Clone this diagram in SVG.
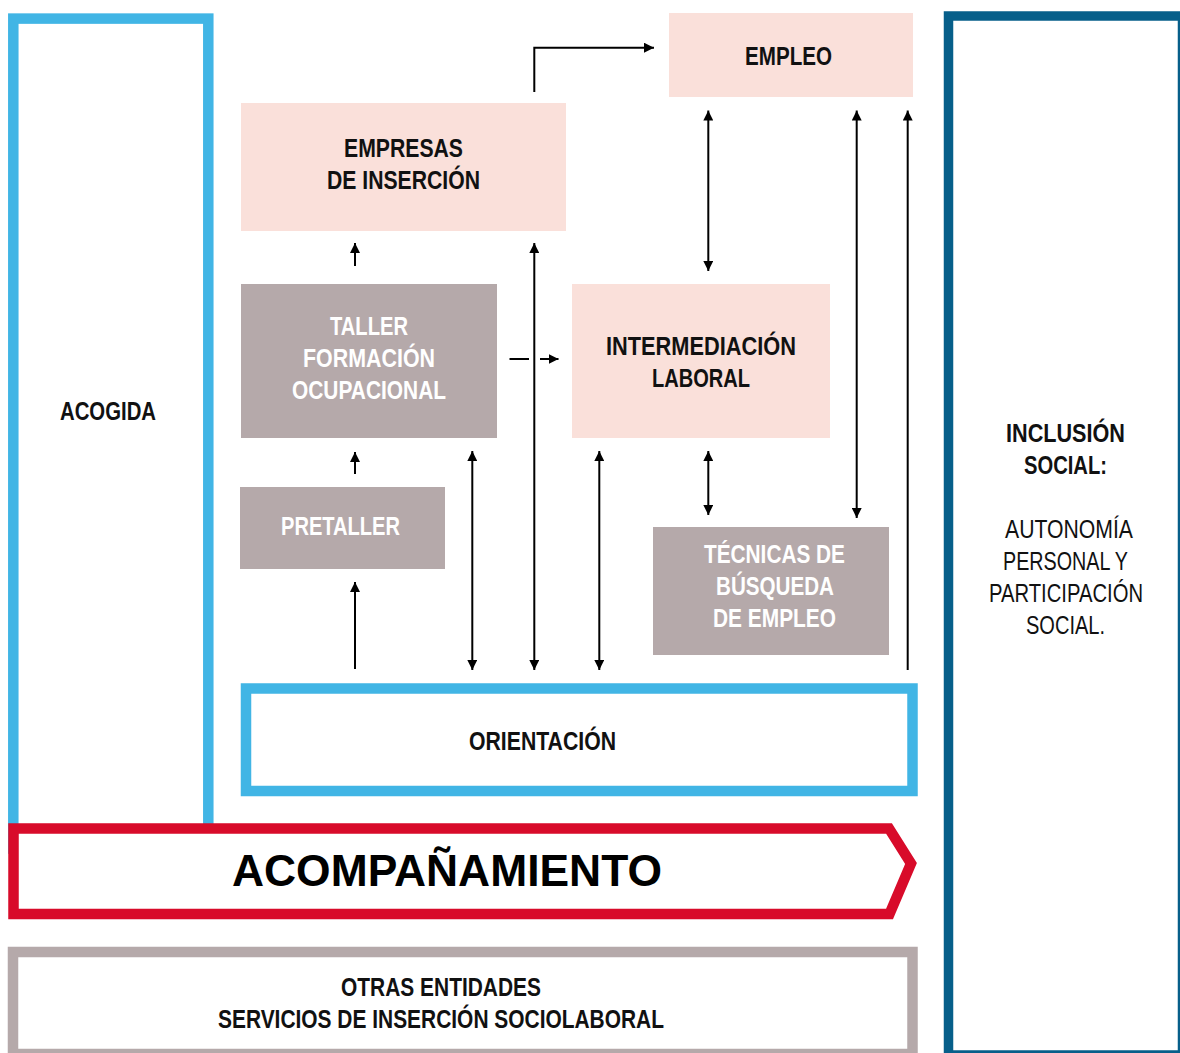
<svg xmlns="http://www.w3.org/2000/svg" width="1180" height="1053" viewBox="0 0 1180 1053">
<defs>
<marker id="ah" viewBox="0 0 10 10" refX="10" refY="5" markerWidth="10" markerHeight="10" markerUnits="userSpaceOnUse" orient="auto-start-reverse">
<path d="M0,0 L10,5 L0,10 z" fill="#000"/>
</marker>
<style>
.t{font-family:"Liberation Sans",Arial,sans-serif;font-size:26px;font-weight:bold;text-anchor:middle;fill:#111}
.w{fill:#fff}
.r{font-weight:normal}
.pink{fill:#fae0da}
.grey{fill:#b5a9aa}
.ln{stroke:#000;stroke-width:2;fill:none}
</style>
</defs>
<rect width="1180" height="1053" fill="#fff"/>

<g id="acogida">
<rect x="13.3" y="18.6" width="195" height="830" fill="none" stroke="#41b5e5" stroke-width="10.5"/>
<text class="t" x="108" y="420" textLength="96" lengthAdjust="spacingAndGlyphs">ACOGIDA</text>
</g>

<g id="inclusion">
<rect x="948.5" y="16" width="234" height="1039" fill="none" stroke="#075f8a" stroke-width="9.5"/>
<text class="t" x="1065.5" y="442" textLength="119" lengthAdjust="spacingAndGlyphs">INCLUSIÓN</text>
<text class="t" x="1065.5" y="474" textLength="83" lengthAdjust="spacingAndGlyphs">SOCIAL:</text>
<text class="t r" x="1069" y="538" textLength="128" lengthAdjust="spacingAndGlyphs">AUTONOMÍA</text>
<text class="t r" x="1065.5" y="570" textLength="125" lengthAdjust="spacingAndGlyphs">PERSONAL Y</text>
<text class="t r" x="1066" y="602" textLength="154" lengthAdjust="spacingAndGlyphs">PARTICIPACIÓN</text>
<text class="t r" x="1065.5" y="634" textLength="79" lengthAdjust="spacingAndGlyphs">SOCIAL.</text>
</g>

<g id="empleo">
<rect class="pink" x="669" y="13" width="244" height="84"/>
<text class="t" x="788.5" y="65" textLength="87" lengthAdjust="spacingAndGlyphs">EMPLEO</text>
</g>

<g id="empresas">
<rect class="pink" x="241" y="103" width="325" height="128"/>
<text class="t" x="403.5" y="157" textLength="119" lengthAdjust="spacingAndGlyphs">EMPRESAS</text>
<text class="t" x="403.5" y="189" textLength="153" lengthAdjust="spacingAndGlyphs">DE INSERCIÓN</text>
</g>

<g id="taller">
<rect class="grey" x="241" y="284" width="256" height="154"/>
<text class="t w" x="369" y="335" textLength="78" lengthAdjust="spacingAndGlyphs">TALLER</text>
<text class="t w" x="369" y="367" textLength="132" lengthAdjust="spacingAndGlyphs">FORMACIÓN</text>
<text class="t w" x="369" y="399" textLength="154" lengthAdjust="spacingAndGlyphs">OCUPACIONAL</text>
</g>

<g id="intermediacion">
<rect class="pink" x="572" y="284" width="258" height="154"/>
<text class="t" x="701" y="355" textLength="190" lengthAdjust="spacingAndGlyphs">INTERMEDIACIÓN</text>
<text class="t" x="701" y="387" textLength="98" lengthAdjust="spacingAndGlyphs">LABORAL</text>
</g>

<g id="pretaller">
<rect class="grey" x="240" y="487" width="205" height="82"/>
<text class="t w" x="340.5" y="535" textLength="119" lengthAdjust="spacingAndGlyphs">PRETALLER</text>
</g>

<g id="tecnicas">
<rect class="grey" x="653" y="527" width="236" height="128"/>
<text class="t w" x="774.5" y="563" textLength="141" lengthAdjust="spacingAndGlyphs">TÉCNICAS DE</text>
<text class="t w" x="775" y="595" textLength="118" lengthAdjust="spacingAndGlyphs">BÚSQUEDA</text>
<text class="t w" x="774.5" y="627" textLength="123" lengthAdjust="spacingAndGlyphs">DE EMPLEO</text>
</g>

<g id="orientacion">
<rect x="246" y="688.5" width="666.5" height="102.5" fill="none" stroke="#41b5e5" stroke-width="10.5"/>
<text class="t" x="542.5" y="750" textLength="147" lengthAdjust="spacingAndGlyphs">ORIENTACIÓN</text>
</g>

<g id="acompanamiento">
<path d="M13.5,828.5 L889,828.5 L911,863.5 L889.5,914 L13.5,914 Z" fill="#fff" stroke="#d80b2a" stroke-width="10.5" stroke-linejoin="miter"/>
<text x="447" y="886" style="font-family:'Liberation Sans',Arial,sans-serif;font-size:44px;font-weight:bold;text-anchor:middle;fill:#000" textLength="430" lengthAdjust="spacingAndGlyphs">ACOMPAÑAMIENTO</text>
</g>

<g id="otras">
<rect x="13" y="952" width="899.5" height="102" fill="none" stroke="#b5a9aa" stroke-width="10.5"/>
<text class="t" x="441" y="996" textLength="200" lengthAdjust="spacingAndGlyphs">OTRAS ENTIDADES</text>
<text class="t" x="441" y="1028" textLength="446" lengthAdjust="spacingAndGlyphs">SERVICIOS DE INSERCIÓN SOCIOLABORAL</text>
</g>

<g id="connectors">
<path class="ln" d="M534.3,92 V47.7 H654" marker-end="url(#ah)"/>
<path class="ln" d="M355,266 V243" marker-end="url(#ah)"/>
<path class="ln" d="M355,474 V452" marker-end="url(#ah)"/>
<path class="ln" d="M355,669 V582" marker-end="url(#ah)"/>
<path class="ln" d="M509.5,359 H529"/>
<path class="ln" d="M540,359 H558.5" marker-end="url(#ah)"/>
<path class="ln" d="M472.3,451 V670" marker-start="url(#ah)" marker-end="url(#ah)"/>
<path class="ln" d="M534.3,243 V670" marker-start="url(#ah)" marker-end="url(#ah)"/>
<path class="ln" d="M599.3,451 V670" marker-start="url(#ah)" marker-end="url(#ah)"/>
<path class="ln" d="M708.3,110.5 V271" marker-start="url(#ah)" marker-end="url(#ah)"/>
<path class="ln" d="M708.3,451 V515" marker-start="url(#ah)" marker-end="url(#ah)"/>
<path class="ln" d="M856.7,110.5 V518" marker-start="url(#ah)" marker-end="url(#ah)"/>
<path class="ln" d="M907.7,670 V110.5" marker-end="url(#ah)"/>
</g>
</svg>
